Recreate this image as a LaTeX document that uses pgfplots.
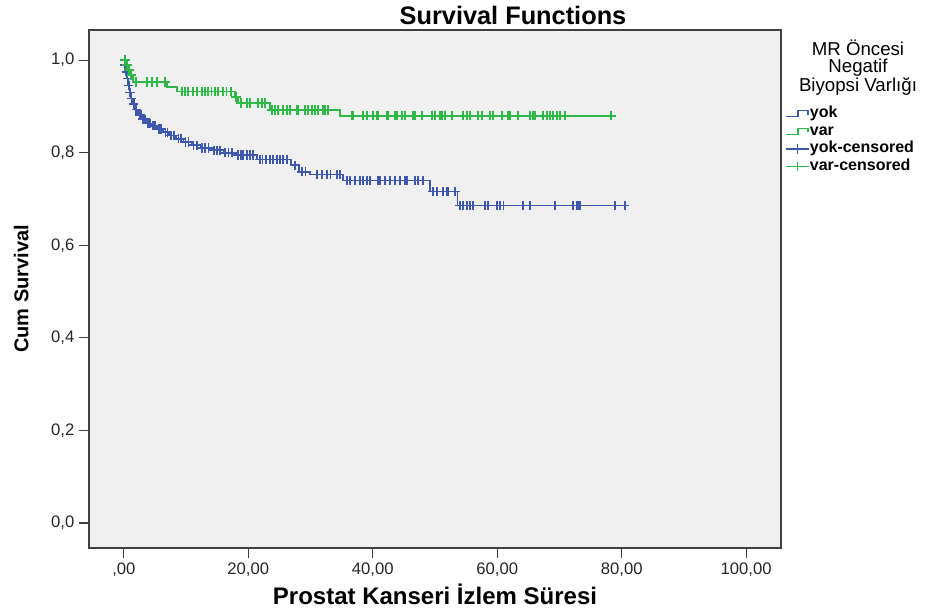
\documentclass[border=0pt]{standalone}
\usepackage{fontspec}
\setmainfont{Liberation Sans}
\usepackage{pgfplots}
\pgfplotsset{compat=1.18}
\definecolor{spssblue}{RGB}{62,88,172}
\definecolor{spssgreen}{RGB}{46,184,72}
\definecolor{spssbg}{RGB}{240,240,240}

\begin{document}
\begin{tikzpicture}
\begin{axis}[
    at={(66.75pt,48pt)}, anchor=south west,
    scale only axis, width=519pt, height=388.5pt,
    xmin=-5.6, xmax=105.6, ymin=-0.054, ymax=1.065,
    axis background/.style={fill=spssbg},
    axis line style={black!75, line width=0.8pt},
    tick pos=left, tick align=outside, major tick length=7.5pt,
    tick style={black!75, line width=0.8pt},
    xtick={0,20,40,60,80,100},
    xticklabels={{,00},{20,00},{40,00},{60,00},{80,00},{100,00}},
    ytick={0,0.2,0.4,0.6,0.8,1},
    yticklabels={{0,0},{0,2},{0,4},{0,6},{0,8},{1,0}},
    ticklabel style={font=\fontsize{12.5}{14}\selectfont, text=black!85},
    xlabel={Prostat Kanseri İzlem Süresi},
    ylabel={Cum Survival},
    xlabel style={font=\fontsize{18}{20}\selectfont\bfseries, at={(axis description cs:0.5,-0.110)}, anchor=base},
    ylabel style={font=\fontsize{15}{17}\selectfont\bfseries, at={(axis description cs:-0.098,0.5)}, anchor=center},
    legend style={at={(axis description cs:1.0000,0.861)}, anchor=north west,
        draw=none, fill=none, font=\fontsize{12}{12}\selectfont\bfseries,
        nodes={inner sep=0.5pt, text height=9pt, text depth=3.2pt, anchor=west},
        row sep=0pt},
    legend cell align=left,
]
% yok: survival steps
\addplot[spssblue, line width=1.3pt, const plot, mark=none,
    legend image code/.code={\draw[spssblue, line width=1pt] (0pt,-2.25pt) -- (9pt,-2.25pt) -- (9pt,2.25pt) -- (16.5pt,2.25pt) -- (16.5pt,-0.75pt);}]
coordinates {
(0,1.0)(0.15,0.99)(0.3,0.975)(0.5,0.96)(0.7,0.945)(0.9,0.93)(1.1,0.917)(1.4,0.905)
(1.8,0.893)(2.3,0.882)(2.9,0.872)(3.6,0.863)(4.4,0.858)(5.3,0.851)(6.3,0.844)(7.3,0.837)
(8.4,0.83)(9.6,0.823)(10.9,0.816)(12.3,0.81)(14.2,0.805)(16.0,0.8)(18.0,0.795)(21.4,0.785)
(26.9,0.773)(28.2,0.759)(29.9,0.753)(35.2,0.740)(49.2,0.716)(53.6,0.686)(81.0,0.686)
};
\addlegendentry{yok}
% var: survival steps
\addplot[spssgreen, line width=1.3pt, const plot, mark=none,
    legend image code/.code={\draw[spssgreen, line width=1pt] (0pt,-2.25pt) -- (9pt,-2.25pt) -- (9pt,2.25pt) -- (16.5pt,2.25pt) -- (16.5pt,-0.75pt);}]
coordinates {
(0,1.0)(0.3,0.99)(0.7,0.978)(1.0,0.967)(1.5,0.953)(6.9,0.942)(8.5,0.932)(17.8,0.92)
(18.4,0.907)(23.5,0.892)(34.7,0.880)(78.5,0.880)
};
\addlegendentry{var}
% yok censored
\addplot[spssblue, only marks, mark=+, mark size=3.5pt, mark options={line width=1.3pt},
    legend image code/.code={\draw[spssblue, line width=1pt] (0pt,0pt) -- (17pt,0pt); \draw[spssblue, line width=1pt] (8.5pt,-3.5pt) -- (8.5pt,3.5pt);}]
coordinates {
(0.1,1.0)(0.2,0.99)(0.4,0.975)(0.6,0.96)(0.8,0.945)(1.0,0.93)(1.25,0.917)(1.6,0.905)
(2.0,0.893)(2.5,0.882)(2.7,0.882)(3.1,0.872)(3.4,0.872)(3.9,0.863)(4.2,0.863)(4.7,0.858)
(5.0,0.858)(5.6,0.851)(6.0,0.851)(6.7,0.844)(7.0,0.844)(7.6,0.837)(8.0,0.837)(8.8,0.83)
(9.2,0.83)(9.9,0.823)(10.4,0.823)(11.2,0.816)(11.7,0.816)(12.6,0.81)(13.0,0.81)(13.6,0.81)
(14.5,0.805)(15.0,0.805)(15.5,0.805)(16.3,0.8)(16.8,0.8)(17.4,0.8)(18.3,0.795)(18.8,0.795)
(19.1,0.795)(19.8,0.795)(20.3,0.795)(20.7,0.795)(21.9,0.785)(22.3,0.785)(22.9,0.785)
(23.5,0.785)(24.0,0.785)(24.6,0.785)(25.1,0.785)(25.6,0.785)(26.2,0.785)(27.5,0.773)
(28.6,0.759)(29.2,0.759)(31.0,0.753)(31.8,0.753)(32.6,0.753)(33.2,0.753)(34.2,0.753)
(34.7,0.753)(35.9,0.74)(36.3,0.74)(37.1,0.74)(37.9,0.74)(38.4,0.74)(39.1,0.74)(39.5,0.74)
(40.8,0.74)(41.2,0.74)(42.0,0.74)(42.8,0.74)(43.6,0.74)(44.4,0.74)(45.2,0.74)(45.5,0.74)
(46.8,0.74)(47.3,0.74)(48.1,0.74)(49.7,0.716)(50.3,0.716)(51.3,0.716)(51.9,0.716)
(52.1,0.716)(53.2,0.716)(54.0,0.686)(54.5,0.686)(55.1,0.686)(55.6,0.686)(56.1,0.686)
(58.0,0.686)(58.5,0.686)(60.0,0.686)(60.5,0.686)(61.0,0.686)(64.1,0.686)(65.3,0.686)
(69.3,0.686)(72.2,0.686)(72.8,0.686)(73.0,0.686)(73.3,0.686)(78.9,0.686)(80.5,0.686)
};
\addlegendentry{yok-censored}
% var censored
\addplot[spssgreen, only marks, mark=+, mark size=3.5pt, mark options={line width=1.3pt},
    legend image code/.code={\draw[spssgreen, line width=1pt] (0pt,0pt) -- (17pt,0pt); \draw[spssgreen, line width=1pt] (8.5pt,-3.5pt) -- (8.5pt,3.5pt);}]
coordinates {
(0.2,1.0)(0.5,0.99)(0.85,0.978)(1.2,0.967)(2.0,0.953)(3.7,0.953)(4.5,0.953)(5.3,0.953)
(6.6,0.953)(9.3,0.932)(9.8,0.932)(10.3,0.932)(11.1,0.932)(11.7,0.932)(12.5,0.932)
(13.0,0.932)(13.5,0.932)(14.1,0.932)(14.6,0.932)(15.1,0.932)(15.9,0.932)(16.5,0.932)
(17.2,0.932)(18.0,0.92)(18.8,0.907)(19.8,0.907)(20.3,0.907)(21.5,0.907)(22.2,0.907)
(22.7,0.907)(23.8,0.892)(24.3,0.892)(24.8,0.892)(25.6,0.892)(26.2,0.892)(26.7,0.892)
(27.8,0.892)(28.0,0.892)(29.1,0.892)(29.6,0.892)(30.2,0.892)(30.7,0.892)(31.2,0.892)
(32.0,0.892)(32.3,0.892)(32.8,0.892)(36.7,0.88)(36.9,0.88)(38.4,0.88)(39.1,0.88)(40.0,0.88)
(40.7,0.88)(40.9,0.88)(42.3,0.88)(42.5,0.88)(43.6,0.88)(43.9,0.88)(44.7,0.88)(45.2,0.88)
(46.5,0.88)(46.8,0.88)(47.9,0.88)(49.5,0.88)(50.0,0.88)(50.8,0.88)(51.1,0.88)(51.6,0.88)
(52.7,0.88)(54.5,0.88)(55.1,0.88)(55.6,0.88)(56.9,0.88)(57.6,0.88)(58.8,0.88)(59.3,0.88)
(60.8,0.88)(61.7,0.88)(62.1,0.88)(63.3,0.88)(65.3,0.88)(65.8,0.88)(66.1,0.88)(67.4,0.88)
(68.0,0.88)(68.5,0.88)(69.0,0.88)(69.6,0.88)(70.1,0.88)(70.9,0.88)(78.3,0.88)
};
\addlegendentry{var-censored}
\end{axis}
% title and legend heading
\node[anchor=base, font=\fontsize{19}{21}\selectfont\bfseries] at (384.75pt,440.25pt) {Survival Functions};
\node[anchor=north, align=center, inner sep=0pt, font=\fontsize{14}{12.75}\selectfont] at (643.5pt,429pt) {MR Öncesi\\Negatif\\Biyopsi Varlığı};
\pgfresetboundingbox
\useasboundingbox (0pt,0pt) rectangle (701.25pt,459pt);
\end{tikzpicture}
\end{document}
